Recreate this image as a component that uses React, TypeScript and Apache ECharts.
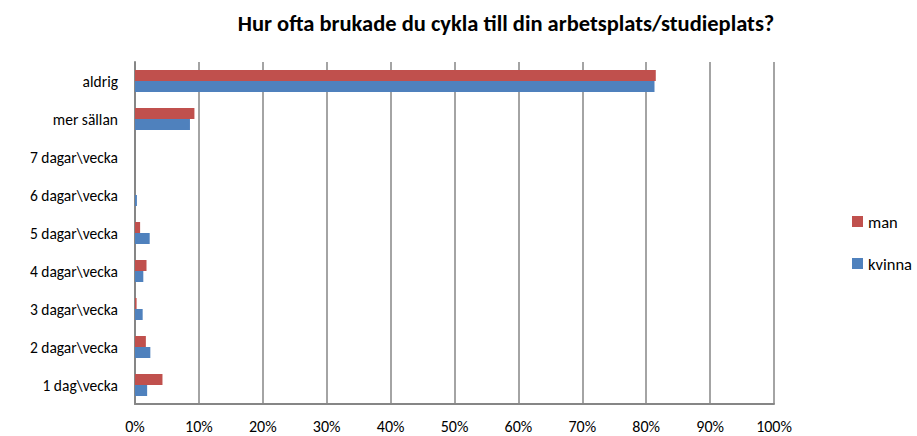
import React, { useEffect, useRef } from "react";
import * as echarts from "echarts";

const categories = [
  "1 dag\\vecka",
  "2 dagar\\vecka",
  "3 dagar\\vecka",
  "4 dagar\\vecka",
  "5 dagar\\vecka",
  "6 dagar\\vecka",
  "7 dagar\\vecka",
  "mer sällan",
  "aldrig",
];
const manValues = [4.3, 1.7, 0.25, 1.8, 0.8, 0, 0, 9.3, 81.5];
const kvinnaValues = [1.9, 2.4, 1.2, 1.3, 2.3, 0.3, 0, 8.6, 81.3];
const xTicks = [0, 10, 20, 30, 40, 50, 60, 70, 80, 90, 100];

const FONT = "Carlito, 'Open Sans', 'Liberation Sans', sans-serif";

export default function App() {
  const ref = useRef<HTMLDivElement>(null);
  useEffect(() => {
    document.body.style.margin = "0";
    const chart = echarts.init(ref.current!, undefined, { renderer: "svg" });
    chart.setOption({
      animation: false,
      backgroundColor: "#ffffff",
      title: {
        text: "Hur ofta brukade du cykla till din arbetsplats/studieplats?",
        left: 501,
        top: 7,
        textAlign: "center",
        textStyle: { fontFamily: FONT, fontSize: 22.5, fontWeight: "bold", color: "#000" },
      },
      legend: {
        data: ["man", "kvinna"],
        orient: "vertical",
        left: 847,
        top: 208,
        itemWidth: 11,
        itemHeight: 11,
        itemGap: 25,
        icon: "rect",
        textStyle: { fontFamily: FONT, fontSize: 16.5, color: "#000" },
      },
      grid: { left: 135, right: 143, top: 62, bottom: 32, containLabel: false },
      xAxis: {
        type: "value",
        min: 0,
        max: 100,
        interval: 10,
        axisLabel: {
          formatter: (v: number) => (xTicks.includes(v) ? v + "%" : ""),
          fontFamily: FONT,
          fontSize: 16,
          color: "#000",
          margin: 14,
        },
        axisLine: { show: true, lineStyle: { color: "#868686", width: 2 } },
        axisTick: { show: false },
        splitLine: { show: true, lineStyle: { color: "#868686", width: 1.5 } },
      },
      yAxis: {
        type: "category",
        data: categories,
        axisLabel: { fontFamily: FONT, fontSize: 15.5, color: "#000", margin: 17 },
        axisLine: { show: true, lineStyle: { color: "#868686", width: 2 } },
        axisTick: { show: false },
      },
      series: [
        {
          name: "man",
          type: "bar",
          data: manValues,
          barWidth: 11,
          barGap: "0%",
          itemStyle: { color: "#C0504D" },
        },
        {
          name: "kvinna",
          type: "bar",
          data: kvinnaValues,
          barWidth: 11,
          barGap: "0%",
          itemStyle: { color: "#4F81BD" },
        },
      ],
    });
    return () => chart.dispose();
  }, []);
  return <div ref={ref} style={{ width: 917, height: 436 }} />;
}
